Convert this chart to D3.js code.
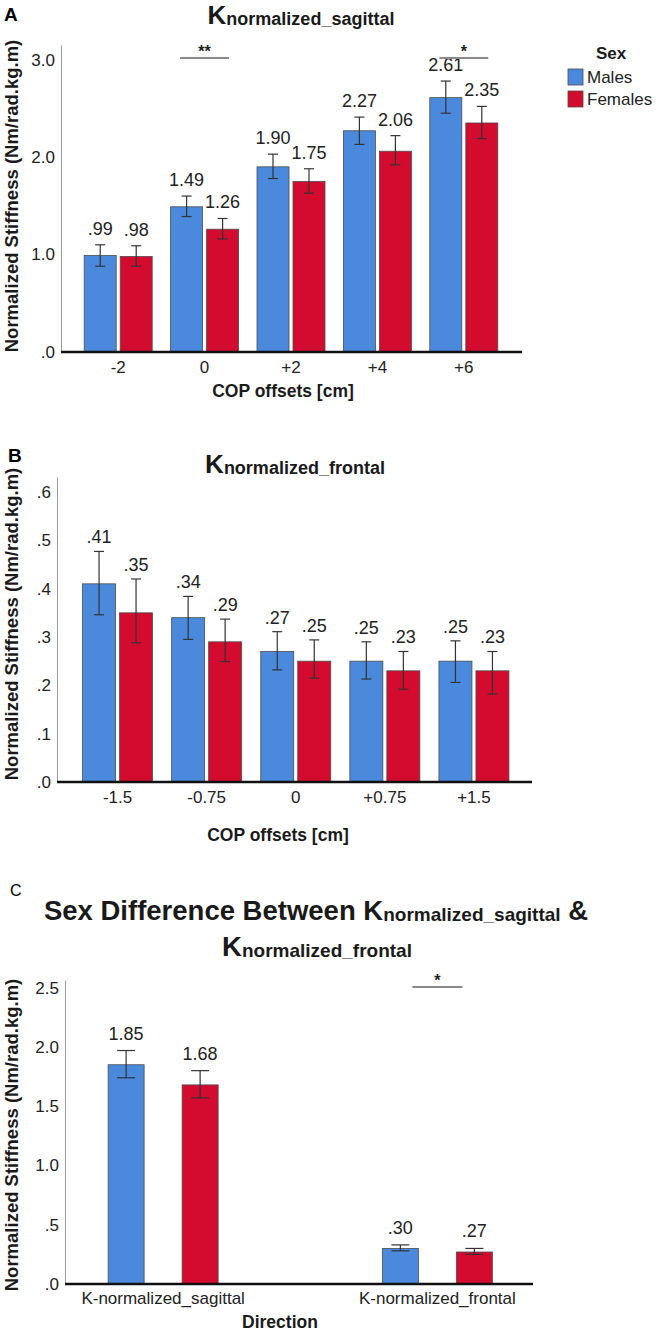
<!DOCTYPE html>
<html>
<head>
<meta charset="utf-8">
<script src="https://cdn.jsdelivr.net/npm/d3@7"></script>
<style>
  body { margin: 0; background: #fff; }
  svg { display: block; }
</style>
</head>
<body>
<div id="chart"></div>
<script>
// panel A - sagittal
const catsA = ["-2", "0", "+2", "+4", "+6"];
const maleA = [0.99, 1.49, 1.90, 2.27, 2.61];
const femaleA = [0.98, 1.26, 1.75, 2.06, 2.35];
const maleLoA = [0.88, 1.39, 1.78, 2.13, 2.45];
const maleHiA = [1.10, 1.60, 2.03, 2.41, 2.78];
const femaleLoA = [0.88, 1.16, 1.63, 1.92, 2.19];
const femaleHiA = [1.09, 1.37, 1.88, 2.22, 2.52];
const ticksA = [0, 1, 2, 3];

// panel B - frontal
const catsB = ["-1.5", "-0.75", "0", "+0.75", "+1.5"];
const maleB = [0.41, 0.34, 0.27, 0.25, 0.25];
const femaleB = [0.35, 0.29, 0.25, 0.23, 0.23];
const maleLoB = [0.346, 0.295, 0.232, 0.213, 0.206];
const maleHiB = [0.477, 0.384, 0.311, 0.290, 0.292];
const femaleLoB = [0.288, 0.249, 0.215, 0.192, 0.182];
const femaleHiB = [0.420, 0.337, 0.294, 0.270, 0.270];
const ticksB = [0, 0.1, 0.2, 0.3, 0.4, 0.5, 0.6];

// panel C - direction
const catsC = ["K-normalized_sagittal", "K-normalized_frontal"];
const maleC = [1.85, 0.30];
const femaleC = [1.68, 0.27];
const maleLoC = [1.74, 0.28];
const maleHiC = [1.97, 0.33];
const femaleLoC = [1.57, 0.25];
const femaleHiC = [1.80, 0.30];
const ticksC = [0, 0.5, 1.0, 1.5, 2.0, 2.5];

const sexes = ["Males", "Females"];
const colors = { Males: "#4a89dc", Females: "#d20b2f" };

const FONT = "'Liberation Sans', Arial, sans-serif";

const width = 656;
const height = 1333;

const svg = d3.select("#chart")
  .append("svg")
  .attr("width", width)
  .attr("height", height)
  .style("font-family", FONT);

const fmt = (v) => {
  const s = d3.format(".2f")(v);
  return s.startsWith("0.") ? s.slice(1) : s;
};
const fmtTick = (v) => {
  const s = d3.format(".1f")(v);
  return s.startsWith("0.") ? s.slice(1) : s;
};

function drawPanel(cfg) {
  const g = svg.append("g");

  const y = d3.scaleLinear().domain(cfg.yDomain).range(cfg.yRange);
  const x = d3.scaleBand().domain(cfg.cats).range(cfg.xRange);
  const xs = d3.scaleBand()
    .domain(sexes)
    .range([-(cfg.barW + cfg.gap / 2), cfg.barW + cfg.gap / 2])
    .paddingInner(cfg.gap / (cfg.barW + cfg.gap));

  // y axis
  const yAxis = g.append("g")
    .attr("transform", `translate(${cfg.axisX},0)`)
    .call(d3.axisLeft(y).tickValues(cfg.ticks).tickFormat(fmtTick).tickSize(0).tickSizeOuter(0).tickPadding(6));
  yAxis.select(".domain").attr("stroke", "#9a9a9a").attr("stroke-width", 1);
  yAxis.selectAll("text").attr("font-size", 17).attr("fill", "#222").style("font-family", FONT);

  const rows = [];
  cfg.cats.forEach((c, i) => {
    rows.push({ cat: c, sex: "Males", v: cfg.male[i], lo: cfg.maleLo[i], hi: cfg.maleHi[i] });
    rows.push({ cat: c, sex: "Females", v: cfg.female[i], lo: cfg.femaleLo[i], hi: cfg.femaleHi[i] });
  });
  const cx = (d) => x(d.cat) + x.bandwidth() / 2 + xs(d.sex) + xs.bandwidth() / 2;

  g.selectAll("rect.bar")
    .data(rows)
    .enter()
    .append("rect")
    .attr("class", "bar")
    .attr("x", (d) => x(d.cat) + x.bandwidth() / 2 + xs(d.sex))
    .attr("y", (d) => y(d.v))
    .attr("width", xs.bandwidth())
    .attr("height", (d) => y(0) - y(d.v))
    .attr("fill", (d) => colors[d.sex])
    .attr("stroke", "#4d4d4d")
    .attr("stroke-width", 0.8);

  // error bars
  const eb = g.selectAll("g.err").data(rows).enter().append("g").attr("class", "err")
    .attr("stroke", "#333").attr("stroke-width", 1.2);
  eb.append("line")
    .attr("x1", cx).attr("x2", cx)
    .attr("y1", (d) => y(d.lo)).attr("y2", (d) => y(d.hi));
  eb.append("line")
    .attr("x1", (d) => cx(d) - cfg.cap / 2).attr("x2", (d) => cx(d) + cfg.cap / 2)
    .attr("y1", (d) => y(d.hi)).attr("y2", (d) => y(d.hi));
  eb.append("line")
    .attr("x1", (d) => cx(d) - cfg.cap / 2).attr("x2", (d) => cx(d) + cfg.cap / 2)
    .attr("y1", (d) => y(d.lo)).attr("y2", (d) => y(d.lo));

  // value labels
  g.selectAll("text.val")
    .data(rows)
    .enter()
    .append("text")
    .attr("class", "val")
    .attr("x", cx)
    .attr("y", (d) => y(d.hi) - cfg.labelGap)
    .attr("text-anchor", "middle")
    .attr("font-size", 18)
    .attr("fill", "#222")
    .text((d) => fmt(d.v));

  // x axis
  g.append("line")
    .attr("x1", cfg.axisX).attr("x2", cfg.axisEnd)
    .attr("y1", y(0)).attr("y2", y(0))
    .attr("stroke", "#111").attr("stroke-width", 2.5);
  const xAxis = g.append("g")
    .attr("transform", `translate(0,${y(0)})`)
    .call(d3.axisBottom(x).tickSize(0).tickPadding(cfg.xPad));
  xAxis.select(".domain").remove();
  xAxis.selectAll("text").attr("font-size", 17).attr("fill", "#222").style("font-family", FONT);

  // axis titles
  g.append("text")
    .attr("x", cfg.xTitle[0]).attr("y", cfg.xTitle[1])
    .attr("text-anchor", "middle")
    .attr("font-size", 17.5).attr("font-weight", "bold").attr("fill", "#1a1a1a")
    .text(cfg.xTitleText);
  g.append("text")
    .attr("transform", `translate(${cfg.yTitle[0]},${cfg.yTitle[1]}) rotate(-90)`)
    .attr("text-anchor", "middle")
    .attr("font-size", 18.5).attr("font-weight", "bold").attr("fill", "#1a1a1a")
    .text("Normalized Stiffness (Nm/rad.kg.m)");

  // significance marks
  cfg.sig.forEach((s) => {
    const c = x(s.cat) + x.bandwidth() / 2;
    g.append("line")
      .attr("x1", c - s.w / 2).attr("x2", c + s.w / 2)
      .attr("y1", s.y).attr("y2", s.y)
      .attr("stroke", "#8a8a8a").attr("stroke-width", 2);
    g.append("text")
      .attr("x", c).attr("y", s.y - 1)
      .attr("text-anchor", "middle")
      .attr("font-size", 16).attr("font-weight", "bold").attr("fill", "#222")
      .text(s.mark);
  });
  return g;
}

function subTitle(x, yb, parts) {
  const t = svg.append("text")
    .attr("x", x).attr("y", yb)
    .attr("text-anchor", "middle")
    .attr("font-weight", "bold")
    .attr("fill", "#1a1a1a");
  parts.forEach((p) => {
    t.append("tspan")
      .attr("font-size", p.size)
      .attr("dy", p.dy || 0)
      .text(p.t);
  });
  return t;
}

// ---- Panel A ----
drawPanel({
  cats: catsA, male: maleA, female: femaleA,
  maleLo: maleLoA, maleHi: maleHiA, femaleLo: femaleLoA, femaleHi: femaleHiA,
  ticks: ticksA, yDomain: [0, 3.15], yRange: [352, 45],
  xRange: [75, 507], barW: 32, gap: 4, cap: 10,
  axisX: 61, axisEnd: 522, xPad: 9, labelGap: 10,
  xTitle: [283, 397], xTitleText: "COP offsets [cm]", yTitle: [18, 196],
  sig: [{ cat: "0", w: 49, y: 58, mark: "**" }, { cat: "+6", w: 49, y: 58, mark: "*" }]
});
svg.append("text").attr("x", 4).attr("y", 21)
  .attr("font-size", 19).attr("font-weight", "bold").text("A");
subTitle(301, 24, [{ t: "K", size: 26 }, { t: "normalized_sagittal", size: 18, dy: 1 }]);

// legend
const leg = svg.append("g").attr("transform", "translate(568,0)");
leg.append("text").attr("x", 43).attr("y", 59).attr("text-anchor", "middle")
  .attr("font-size", 17).attr("font-weight", "bold").attr("fill", "#1a1a1a").text("Sex");
sexes.forEach((s, i) => {
  leg.append("rect").attr("x", 0).attr("y", 69 + i * 22).attr("width", 15).attr("height", 16)
    .attr("fill", colors[s]).attr("stroke", "#4d4d4d").attr("stroke-width", 0.8);
  leg.append("text").attr("x", 19).attr("y", 83 + i * 22)
    .attr("font-size", 17).attr("fill", "#222").text(s);
});

// ---- Panel B ----
drawPanel({
  cats: catsB, male: maleB, female: femaleB,
  maleLo: maleLoB, maleHi: maleHiB, femaleLo: femaleLoB, femaleHi: femaleHiB,
  ticks: ticksB, yDomain: [0, 0.631], yRange: [782, 477],
  xRange: [73, 518.5], barW: 33, gap: 4, cap: 10,
  axisX: 57, axisEnd: 532, xPad: 9, labelGap: 8,
  xTitle: [278, 841], xTitleText: "COP offsets [cm]", yTitle: [18, 624],
  sig: []
});
svg.append("text").attr("x", 8).attr("y", 462)
  .attr("font-size", 19).attr("font-weight", "bold").text("B");
subTitle(295, 473, [{ t: "K", size: 26 }, { t: "normalized_frontal", size: 18, dy: 1 }]);

// ---- Panel C ----
drawPanel({
  cats: catsC, male: maleC, female: femaleC,
  maleLo: maleLoC, maleHi: maleHiC, femaleLo: femaleLoC, femaleHi: femaleHiC,
  ticks: ticksC, yDomain: [0, 2.565], yRange: [1284, 980],
  xRange: [26, 574.5], barW: 36, gap: 38, cap: 18,
  axisX: 65, axisEnd: 533, xPad: 8, labelGap: 11,
  xTitle: [280, 1328], xTitleText: "Direction", yTitle: [18, 1135],
  sig: [{ cat: "K-normalized_frontal", w: 50, y: 987, mark: "*" }]
});
svg.append("text").attr("x", 10).attr("y", 896)
  .attr("font-size", 16).text("C");
subTitle(316, 920, [
  { t: "Sex Difference Between K", size: 27.5 },
  { t: "normalized_sagittal", size: 19, dy: 1 },
  { t: " &", size: 27.5, dy: -1 }
]);
subTitle(317, 956, [{ t: "K", size: 27.5 }, { t: "normalized_frontal", size: 19, dy: 1 }]);
</script>
</body>
</html>
